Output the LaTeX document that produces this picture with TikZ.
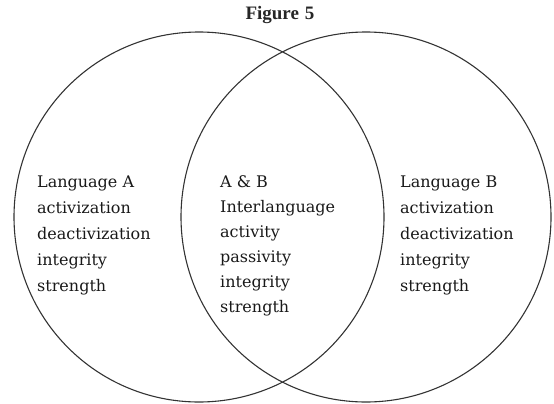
\documentclass[tikz,border=0pt]{standalone}
\usepackage{fontspec}
\setmainfont{DejaVu Serif}
\newfontfamily\titlefont{Liberation Serif}
\tikzset{
  venn/.style={circle, draw=black!80, line width=1.1pt, minimum size=370pt, inner sep=0pt},
  txt/.style={anchor=base west, inner sep=0pt, font=\fontsize{16}{18}\selectfont, text=black!90},
  ttl/.style={anchor=base, inner sep=0pt, font=\titlefont\bfseries\fontsize{19}{21}\selectfont, text=black!85}
}
\begin{document}
\begin{tikzpicture}[x=1pt,y=-1pt]
\path[use as bounding box] (0,0) rectangle (554,404);
\node[venn] (A) at (199,217) {};
\node[venn] (B) at (366,217) {};
\node[ttl] (title) at (280,20) {Figure\hspace{6pt}5};
% left block
\node[txt] (a1) at (37,187) {Language A};
\node[txt] (a2) at (37,213) {activization};
\node[txt] (a3) at (37,239) {deactivization};
\node[txt] (a4) at (37,265) {integrity};
\node[txt] (a5) at (37,291) {strength};
% middle block
\node[txt] (m1) at (220,187) {A \& B};
\node[txt] (m2) at (220,212) {Interlanguage};
\node[txt] (m3) at (220,237) {activity};
\node[txt] (m4) at (220,262) {passivity};
\node[txt] (m5) at (220,287) {integrity};
\node[txt] (m6) at (220,312) {strength};
% right block
\node[txt] (b1) at (400,187) {Language B};
\node[txt] (b2) at (400,213) {activization};
\node[txt] (b3) at (400,239) {deactivization};
\node[txt] (b4) at (400,265) {integrity};
\node[txt] (b5) at (400,291) {strength};
\end{tikzpicture}
\end{document}
